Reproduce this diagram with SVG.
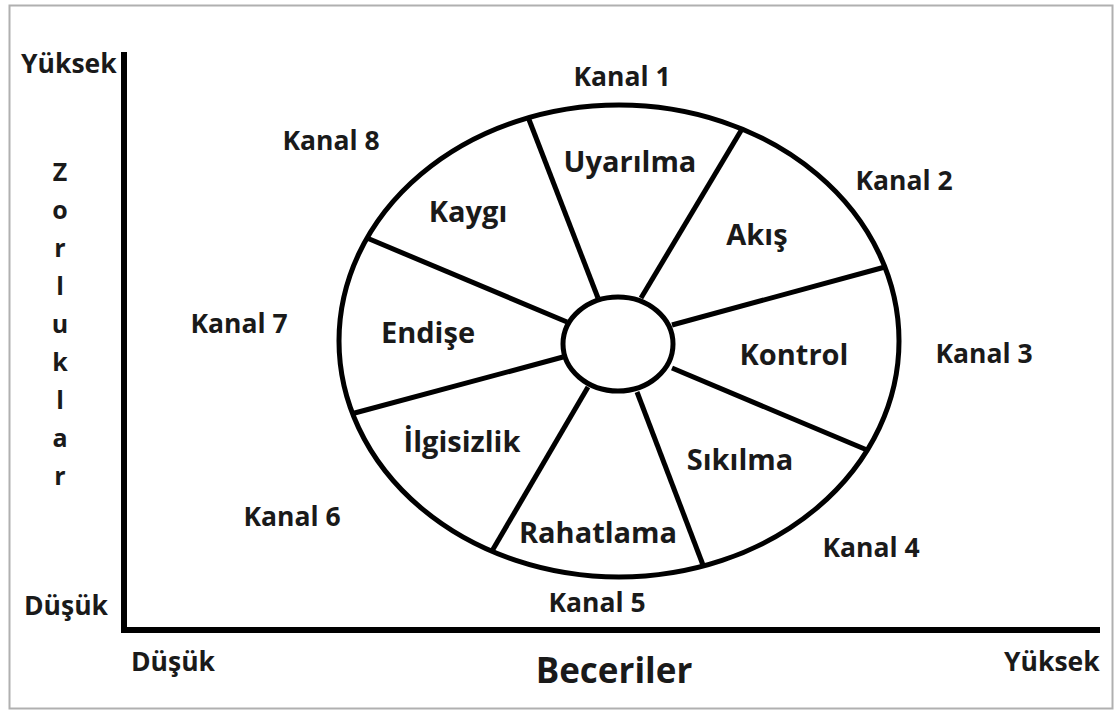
<svg xmlns="http://www.w3.org/2000/svg" width="1118" height="713" viewBox="0 0 1118 713">
<style>
text{font-family:"Open Sans",Lato,"Liberation Sans",sans-serif;font-weight:700;fill:#1a1a1a}
.k{font-size:26.5px;text-anchor:middle}
.s{font-size:29px;text-anchor:middle}
.ax{font-size:26.5px}
.v{font-size:25px;text-anchor:middle}
.ln{stroke:#000;stroke-width:5;fill:none;stroke-linecap:butt}
</style>
<rect x="0" y="0" width="1118" height="713" fill="#fff"/>
<rect x="9.5" y="5.5" width="1103" height="703" fill="none" stroke="#b0b0b0" stroke-width="2"/>
<g id="axes">
<line x1="124" y1="52" x2="124" y2="633" stroke="#000" stroke-width="6"/>
<line x1="121" y1="630" x2="1100" y2="630" stroke="#000" stroke-width="6"/>
</g>
<g id="axis-labels">
<text class="ax" x="21" y="73">Yüksek</text>
<text class="ax" x="24" y="615">Düşük</text>
<text class="ax" x="131" y="671">Düşük</text>
<text class="ax" x="1004" y="671">Yüksek</text>
<text x="614" y="683" style="font-size:35px;text-anchor:middle">Beceriler</text>
<g class="vert">
<text class="v" x="60" y="181">Z</text>
<text class="v" x="60" y="219">o</text>
<text class="v" x="60" y="257">r</text>
<text class="v" x="60" y="295">l</text>
<text class="v" x="60" y="333">u</text>
<text class="v" x="60" y="371">k</text>
<text class="v" x="60" y="409">l</text>
<text class="v" x="60" y="447">a</text>
<text class="v" x="60" y="485">r</text>
</g>
</g>
<g id="wheel">
<ellipse cx="619" cy="341" rx="280" ry="236" class="ln"/>
<ellipse cx="618" cy="344" rx="55" ry="47" class="ln"/>
</g>
<g id="connectors">
<line class="ln" x1="528" y1="117" x2="598" y2="298"/>
<line class="ln" x1="742" y1="129" x2="641" y2="298"/>
<line class="ln" x1="885" y1="267" x2="672" y2="325"/>
<line class="ln" x1="867" y1="450" x2="672" y2="368"/>
<line class="ln" x1="703" y1="565" x2="637" y2="392"/>
<line class="ln" x1="492" y1="551" x2="588" y2="387"/>
<line class="ln" x1="351" y1="414" x2="563" y2="357"/>
<line class="ln" x1="367" y1="238" x2="567" y2="322"/>
</g>
<g id="segment-uyarilma"><text class="s" x="630" y="172">Uyarılma</text></g>
<g id="segment-akis"><text class="s" x="757" y="245">Akış</text></g>
<g id="segment-kontrol"><text class="s" x="794" y="365">Kontrol</text></g>
<g id="segment-sikilma"><text class="s" x="740" y="470">Sıkılma</text></g>
<g id="segment-rahatlama"><text class="s" x="598" y="543">Rahatlama</text></g>
<g id="segment-ilgisizlik"><text class="s" x="462" y="452">İlgisizlik</text></g>
<g id="segment-endise"><text class="s" x="428" y="343">Endişe</text></g>
<g id="segment-kaygi"><text class="s" x="468" y="222">Kaygı</text></g>
<g id="kanal-1"><text class="k" x="622" y="86">Kanal 1</text></g>
<g id="kanal-2"><text class="k" x="904" y="190">Kanal 2</text></g>
<g id="kanal-3"><text class="k" x="984" y="363">Kanal 3</text></g>
<g id="kanal-4"><text class="k" x="871" y="557">Kanal 4</text></g>
<g id="kanal-5"><text class="k" x="597" y="612">Kanal 5</text></g>
<g id="kanal-6"><text class="k" x="292" y="526">Kanal 6</text></g>
<g id="kanal-7"><text class="k" x="239" y="333">Kanal 7</text></g>
<g id="kanal-8"><text class="k" x="331" y="150">Kanal 8</text></g>
</svg>
